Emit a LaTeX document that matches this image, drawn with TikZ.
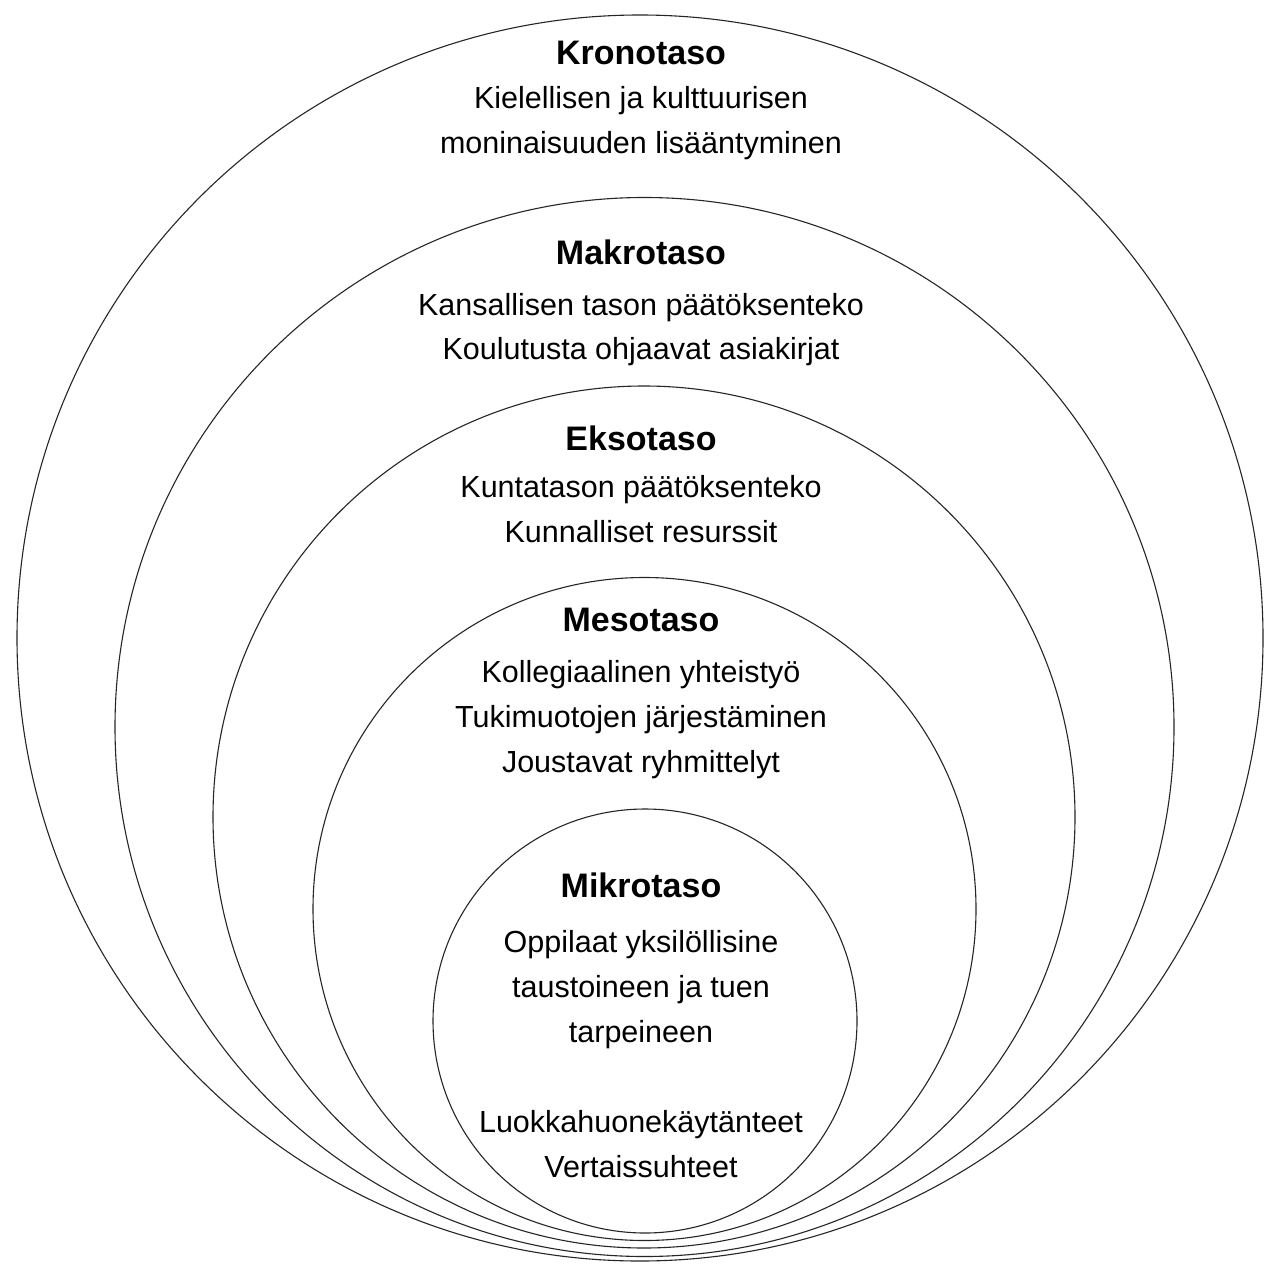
\documentclass[tikz,border=0pt]{standalone}
\usepackage{fontspec}
\setmainfont{Liberation Sans}
\begin{document}
\begin{tikzpicture}[x=1pt,y=-1pt,
  ring/.style={circle,draw=black!85,line width=1.1pt,inner sep=0pt,outer sep=0pt},
  head/.style={anchor=base,inner sep=0pt,font=\fontsize{34}{40}\selectfont\bfseries},
  body/.style={anchor=base,inner sep=0pt,font=\fontsize{30.5}{44}\selectfont}]
\useasboundingbox (0,0) rectangle (1265,1265);
\fill[white] (0,0) rectangle (1265,1265);
% rings
\node[ring,minimum size=1246pt] (krono) at (640,638) {};
\node[ring,minimum size=1059pt] (makro) at (644.5,727) {};
\node[ring,minimum size=862pt] (ekso) at (644,817) {};
\node[ring,minimum size=663pt] (meso) at (644.5,909) {};
\node[ring,minimum size=424pt] (mikro) at (645,1021) {};
% Krono
\node[head] (kronoh) at (641,65) {Kronotaso};
\node[body] (krono1) at (641,109) {Kielellisen ja kulttuurisen};
\node[body] (krono2) at (641,154) {moninaisuuden lisääntyminen};
% Makro
\node[head] (makroh) at (641,265) {Makrotaso};
\node[body] (makro1) at (641,315) {Kansallisen tason päätöksenteko};
\node[body] (makro2) at (641,359) {Koulutusta ohjaavat asiakirjat};
% Ekso
\node[head] (eksoh) at (641,450) {Eksotaso};
\node[body] (ekso1) at (641,497) {Kuntatason päätöksenteko};
\node[body] (ekso2) at (641,542) {Kunnalliset resurssit};
% Meso
\node[head] (mesoh) at (641,631) {Mesotaso};
\node[body] (meso1) at (641,682) {Kollegiaalinen yhteistyö};
\node[body] (meso2) at (641,727) {Tukimuotojen järjestäminen};
\node[body] (meso3) at (641,772) {Joustavat ryhmittelyt};
% Mikro
\node[head] (mikroh) at (641,897) {Mikrotaso};
\node[body] (mikro1) at (641,952) {Oppilaat yksilöllisine};
\node[body] (mikro2) at (641,997) {taustoineen ja tuen};
\node[body] (mikro3) at (641,1042) {tarpeineen};
\node[body] (mikro4) at (641,1132) {Luokkahuonekäytänteet};
\node[body] (mikro5) at (641,1177) {Vertaissuhteet};
\end{tikzpicture}
\end{document}
